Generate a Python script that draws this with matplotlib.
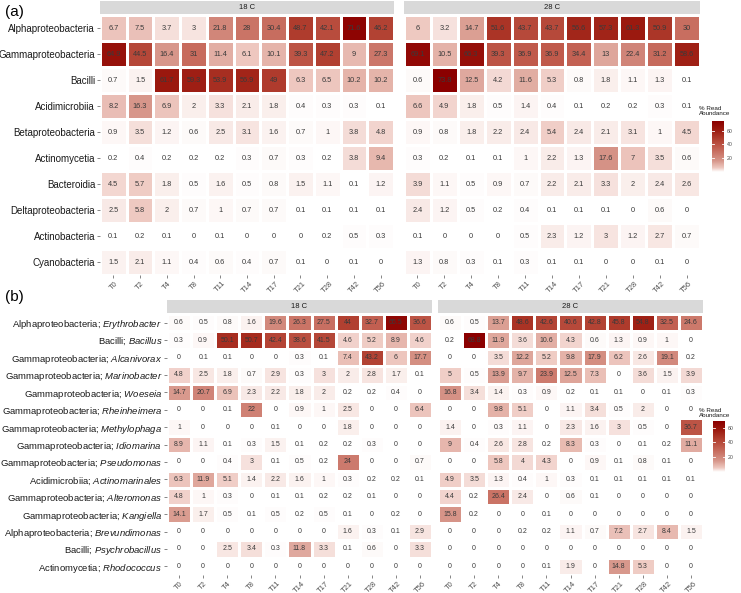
import numpy as np
import matplotlib
matplotlib.use("Agg")
import matplotlib.pyplot as plt
from matplotlib.colors import LinearSegmentedColormap, Normalize

plt.rcParams['font.family'] = ['Liberation Sans', 'DejaVu Sans']
plt.rcParams['mathtext.fontset'] = 'custom'
plt.rcParams['mathtext.rm'] = 'Liberation Sans'
plt.rcParams['mathtext.it'] = 'Liberation Sans:italic'

times = ['T0', 'T2', 'T4', 'T8', 'T11', 'T14', 'T17', 'T21', 'T28', 'T42', 'T56']

# ---- panel (a): classes
classes = ['Alphaproteobacteria', 'Gammaproteobacteria', 'Bacilli', 'Acidimicrobiia',
           'Betaproteobacteria', 'Actinomycetia', 'Bacteroidia', 'Deltaproteobacteria',
           'Actinobacteria', 'Cyanobacteria']
a18 = [
    [6.7, 7.5, 3.7, 3, 21.8, 28, 30.4, 48.7, 42.1, 71.6, 46.2],
    [64.9, 44.5, 16.4, 31, 11.4, 6.1, 10.1, 39.3, 47.2, 9, 27.3],
    [0.7, 1.5, 61.7, 59.3, 53.9, 56.9, 49, 6.3, 6.5, 10.2, 10.2],
    [8.2, 16.3, 6.9, 2, 3.3, 2.1, 1.8, 0.4, 0.3, 0.3, 0.1],
    [0.9, 3.5, 1.2, 0.6, 2.5, 3.1, 1.6, 0.7, 1, 3.8, 4.8],
    [0.2, 0.4, 0.2, 0.2, 0.2, 0.3, 0.7, 0.3, 0.2, 3.8, 9.4],
    [4.5, 5.7, 1.8, 0.5, 1.6, 0.5, 0.8, 1.5, 1.1, 0.1, 1.2],
    [2.5, 5.8, 2, 0.7, 1, 0.7, 0.7, 0.1, 0.1, 0.1, 0.1],
    [0.1, 0.2, 0.1, 0, 0.1, 0, 0, 0, 0.2, 0.5, 0.3],
    [1.5, 2.1, 1.1, 0.4, 0.6, 0.4, 0.7, 0.1, 0, 0.1, 0],
]
a28 = [
    [6, 3.2, 14.7, 51.6, 43.7, 43.7, 56.6, 57.3, 61.3, 50.9, 30],
    [69.1, 10.5, 66.3, 39.3, 36.9, 36.9, 34.4, 13, 22.4, 31.2, 58.6],
    [0.6, 73.8, 12.5, 4.2, 11.6, 5.3, 0.8, 1.8, 1.1, 1.3, 0.1],
    [6.6, 4.9, 1.8, 0.5, 1.4, 0.4, 0.1, 0.2, 0.2, 0.3, 0.1],
    [0.9, 0.8, 1.8, 2.2, 2.4, 5.4, 2.4, 2.1, 3.1, 1, 4.5],
    [0.3, 0.2, 0.1, 0.1, 1, 2.2, 1.3, 17.6, 7, 3.5, 0.6],
    [3.9, 1.1, 0.5, 0.9, 0.7, 2.2, 2.1, 3.3, 2, 2.4, 2.6],
    [2.4, 1.2, 0.5, 0.2, 0.4, 0.1, 0.1, 0.1, 0, 0.6, 0],
    [0.1, 0, 0, 0, 0.5, 2.3, 1.2, 3, 1.2, 2.7, 0.7],
    [1.3, 0.8, 0.3, 0.1, 0.3, 0.1, 0.1, 0, 0, 0.1, 0],
]

# ---- panel (b): genera
class_of_genus = ['Alphaproteobacteria', 'Bacilli', 'Gammaproteobacteria', 'Gammaproteobacteria',
                  'Gammaproteobacteria', 'Gammaproteobacteria', 'Gammaproteobacteria',
                  'Gammaproteobacteria', 'Gammaproteobacteria', 'Acidimicrobiia',
                  'Gammaproteobacteria', 'Gammaproteobacteria', 'Alphaproteobacteria',
                  'Bacilli', 'Actinomycetia']
genera = ['Erythrobacter', 'Bacillus', 'Alcanivorax', 'Marinobacter', 'Woeseia',
          'Rheinheimera', 'Methylophaga', 'Idiomarina', 'Pseudomonas', 'Actinomarinales',
          'Alteromonas', 'Kangiella', 'Brevundimonas', 'Psychrobacillus', 'Rhodococcus']
b18 = [
    [0.6, 0.5, 0.8, 1.6, 19.6, 26.3, 27.5, 44, 32.7, 65.5, 36.6],
    [0.3, 0.9, 50.1, 50.7, 42.4, 38.6, 41.5, 4.6, 5.2, 8.9, 4.6],
    [0, 0.1, 0.1, 0, 0, 0.3, 0.1, 7.4, 43.2, 6, 17.7],
    [4.8, 2.5, 1.8, 0.7, 2.9, 0.3, 3, 2, 2.8, 1.7, 0.1],
    [14.7, 20.7, 6.9, 2.3, 2.2, 1.8, 2, 0.2, 0.2, 0.4, 0],
    [0, 0, 0.1, 22, 0, 0.9, 1, 2.5, 0, 0, 6.4],
    [1, 0, 0, 0, 0.1, 0, 0, 1.8, 0, 0, 0],
    [8.9, 1.1, 0.1, 0.3, 1.5, 0.1, 0.2, 0.2, 0.3, 0, 0],
    [0, 0, 0.4, 3, 0.1, 0.5, 0.2, 24, 0, 0, 0.7],
    [6.3, 11.9, 5.1, 1.4, 2.2, 1.6, 1, 0.3, 0.2, 0.2, 0.1],
    [4.8, 1, 0.3, 0, 0.1, 0.1, 0.2, 0.2, 0.1, 0, 0],
    [14.1, 1.7, 0.5, 0.1, 0.5, 0.2, 0.5, 0.1, 0, 0.2, 0],
    [0, 0, 0, 0, 0, 0, 0, 1.6, 0.3, 0.1, 2.9],
    [0, 0, 2.5, 3.4, 0.3, 11.8, 3.3, 0.1, 0.6, 0, 3.3],
    [0, 0, 0, 0, 0, 0, 0, 0, 0, 0, 0],
]
b28 = [
    [0.6, 0.5, 13.7, 48.6, 42.6, 40.6, 42.8, 45.8, 54.8, 32.5, 24.6],
    [0.2, 68.8, 11.9, 3.6, 10.6, 4.3, 0.6, 1.3, 0.9, 1, 0],
    [0, 0, 3.5, 12.2, 5.2, 9.8, 17.9, 6.2, 2.6, 19.1, 0.2],
    [5, 0.5, 13.9, 9.7, 23.9, 12.5, 7.3, 0, 3.6, 1.5, 3.9],
    [16.8, 3.4, 1.4, 0.3, 0.9, 0.2, 0.1, 0.1, 0, 0.1, 0.3],
    [0, 0, 9.8, 5.1, 0, 1.1, 3.4, 0.5, 2, 0, 0],
    [1.4, 0, 0.3, 1.1, 0, 2.3, 1.6, 3, 0.5, 0, 36.7],
    [9, 0.4, 2.6, 2.8, 0.2, 8.3, 0.3, 0, 0.1, 0.2, 11.1],
    [0, 0, 5.8, 4, 4.3, 0, 0.9, 0.1, 0.8, 0.1, 0],
    [4.9, 3.5, 1.3, 0.4, 1, 0.3, 0.1, 0.1, 0.1, 0.1, 0.1],
    [4.4, 0.2, 26.4, 2.4, 0, 0.6, 0.1, 0, 0, 0, 0],
    [15.8, 0.2, 0, 0, 0.1, 0, 0, 0, 0, 0, 0],
    [0, 0, 0, 0.2, 0.2, 1.1, 0.7, 7.2, 2.7, 8.4, 1.5],
    [0, 0, 0, 0, 0, 0, 0, 0, 0, 0, 0],
    [0, 0, 0, 0, 0.1, 1.9, 0, 14.8, 5.3, 0, 0],
]

W, H = 741, 593
fig = plt.figure(figsize=(W / 100, H / 100), dpi=100)
# white -> dark red, roughly like ggplot's Lab interpolation
cmap = LinearSegmentedColormap.from_list('reds', [
    (0.00, '#FFFFFF'),
    (0.08, '#EEC8C0'),
    (0.22, '#D7968A'),
    (0.50, '#C05A4B'),
    (0.66, '#AF3C2D'),
    (0.83, '#9B190F'),
    (1.00, '#8B0000'),
])


def box(x0, y0, x1, y1):
    return [x0 / W, 1 - y1 / H, (x1 - x0) / W, (y1 - y0) / H]


def heat(rect, vals, rows, norm, show_y, fs_txt, fs_y):
    ax = fig.add_axes(rect)
    z = np.array(vals, dtype=float)
    ax.pcolormesh(z, cmap=cmap, norm=norm, edgecolors='white', linewidth=1.0)
    for i in range(z.shape[0]):
        for j in range(z.shape[1]):
            ax.text(j + 0.5, i + 0.5, f"{z[i, j]:g}", ha='center', va='center',
                    fontsize=fs_txt, color='#3a3a3a')
    ax.set_xlim(0, z.shape[1])
    ax.set_ylim(z.shape[0], 0)
    ax.set_xticks(np.arange(z.shape[1]) + 0.5)
    ax.set_xticklabels(times, rotation=45, ha='center', va='top', fontsize=5.5, color='#4d4d4d')
    ax.set_yticks(np.arange(z.shape[0]) + 0.5)
    ax.tick_params(length=2, width=0.5, color='#555555', pad=1.5)
    if show_y:
        ax.set_yticklabels(rows, fontsize=fs_y, color='#1a1a1a')
    else:
        ax.set_yticklabels([])
        ax.tick_params(axis='y', length=0)
    for s in ax.spines.values():
        s.set_visible(False)
    return ax


def strip(rect, label):
    ax = fig.add_axes(rect)
    ax.set_facecolor('#D9D9D9')
    ax.set_xticks([])
    ax.set_yticks([])
    for s in ax.spines.values():
        s.set_visible(False)
    ax.text(0.5, 0.5, label, ha='center', va='center', fontsize=5.5, color='#1a1a1a',
            transform=ax.transAxes)


def legend(title_xy, rect_bar, norm):
    fig.text(title_xy[0] / W, 1 - title_xy[1] / H, '% Read\nAbundance',
             fontsize=4.5, color='#1a1a1a', va='top', ha='left', linespacing=1.0)
    cax = fig.add_axes(rect_bar)
    grad = np.linspace(0, norm.vmax, 200).reshape(-1, 1)
    cax.imshow(grad, aspect='auto', cmap=cmap, norm=norm, origin='lower',
               extent=[0, 1, 0, norm.vmax])
    for t in (20, 40, 60):
        cax.plot([0, 0.2], [t, t], color='white', lw=0.6)
        cax.plot([0.8, 1], [t, t], color='white', lw=0.6)
    cax.set_xticks([])
    cax.yaxis.tick_right()
    cax.set_yticks([20, 40, 60])
    cax.tick_params(axis='y', length=0, labelsize=3.8, labelcolor='#4d4d4d', pad=2)
    for s in cax.spines.values():
        s.set_visible(False)


# panel (a)
norm_a = Normalize(0, max(np.max(a18), np.max(a28)))
heat(box(100, 15, 394, 275), a18, classes, norm_a, True, 5.3, 7)
heat(box(404, 15, 700, 275), a28, classes, norm_a, False, 5.3, 7)
strip(box(100, 1, 394, 14), '18 C')
strip(box(404, 1, 700, 14), '28 C')
fig.text(5 / W, 1 - 12 / H, '(a)', fontsize=11, va='center', ha='left')
legend((699, 106), box(712, 121, 724, 172), norm_a)

# panel (b)
labels_b = [f"{c}; $\\mathit{{{g}}}$" for c, g in zip(class_of_genus, genera)]
norm_b = Normalize(0, max(np.max(b18), np.max(b28)))
heat(box(167, 314, 432, 575), b18, labels_b, norm_b, True, 5.0, 6.8)
heat(box(438, 314, 703, 575), b28, labels_b, norm_b, False, 5.0, 6.8)
strip(box(167, 300, 432, 313), '18 C')
strip(box(438, 300, 703, 313), '28 C')
fig.text(5 / W, 1 - 297 / H, '(b)', fontsize=11, va='center', ha='left')
legend((699, 408), box(713, 421, 725, 472), norm_b)

fig.savefig('out.png', dpi=100)
